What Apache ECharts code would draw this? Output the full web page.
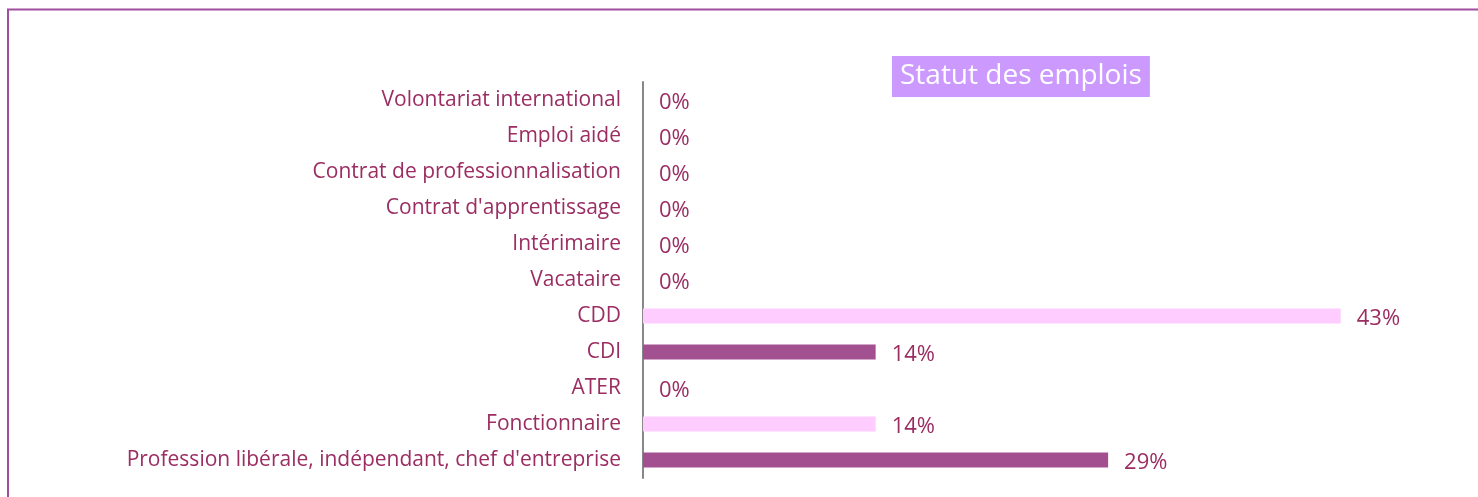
<!DOCTYPE html>
<html>
<head>
<meta charset="utf-8">
<script src="https://cdn.jsdelivr.net/npm/echarts@6/dist/echarts.min.js"></script>
<style>
  html, body { margin: 0; padding: 0; background: #fff; }
  #chart { width: 1478px; height: 497px; }
</style>
</head>
<body>
<div id="chart"></div>
<script>
// categories top to bottom as shown
const categories = [
    "Volontariat international",
    "Emploi aidé",
    "Contrat de professionnalisation",
    "Contrat d'apprentissage",
    "Intérimaire",
    "Vacataire",
    "CDD",
    "CDI",
    "ATER",
    "Fonctionnaire",
    "Profession libérale, indépendant, chef d'entreprise"
];
// percent of jobs
const values = [0, 0, 0, 0, 0, 0, 42.86, 14.29, 0, 14.29, 28.57];
const barColors = ["#ffccff", "#a2508f", "#ffccff", "#a2508f", "#ffccff", "#a2508f",
    "#ffccff", "#a2508f", "#ffccff", "#ffccff", "#a2508f"];

const textColor = "#9b2d62";
const font = "'Open Sans', 'DejaVu Sans', sans-serif";

let chart = echarts.init(document.getElementById("chart"));
chart.setOption({
    animation: false,
    title: {
        text: "Statut des emplois",
        left: 892,
        top: 56,
        padding: [6, 8, 7, 8],
        backgroundColor: "#cc99ff",
        textStyle: {color: "#fff", fontSize: 28, fontWeight: "normal", fontFamily: font}
    },
    graphic: [{
        type: "rect",
        shape: {x: 8, y: 9.5, width: 1600, height: 700},
        style: {fill: null, stroke: "#a24ea0", lineWidth: 2}
    }],
    grid: {left: 643, top: 82, bottom: 19, right: 21},
    xAxis: {
        type: "value",
        min: 0,
        max: 50,
        show: false
    },
    yAxis: {
        type: "category",
        inverse: true,
        data: categories,
        axisLine: {lineStyle: {color: "#888", width: 2}},
        axisTick: {show: false},
        axisLabel: {color: textColor, fontSize: 21, fontFamily: font, margin: 22, padding: [4, 0, 0, 0]}
    },
    series: [{
        type: "bar",
        barWidth: 15,
        data: values.map((v, i) => ({value: v, itemStyle: {color: barColors[i]}})),
        label: {
            show: true,
            position: "right",
            distance: 16,
            offset: [0, 3],
            color: textColor,
            fontSize: 22,
            fontFamily: font,
            formatter: p => Math.round(p.value) + "%"
        }
    }]
});
</script>
</body>
</html>
